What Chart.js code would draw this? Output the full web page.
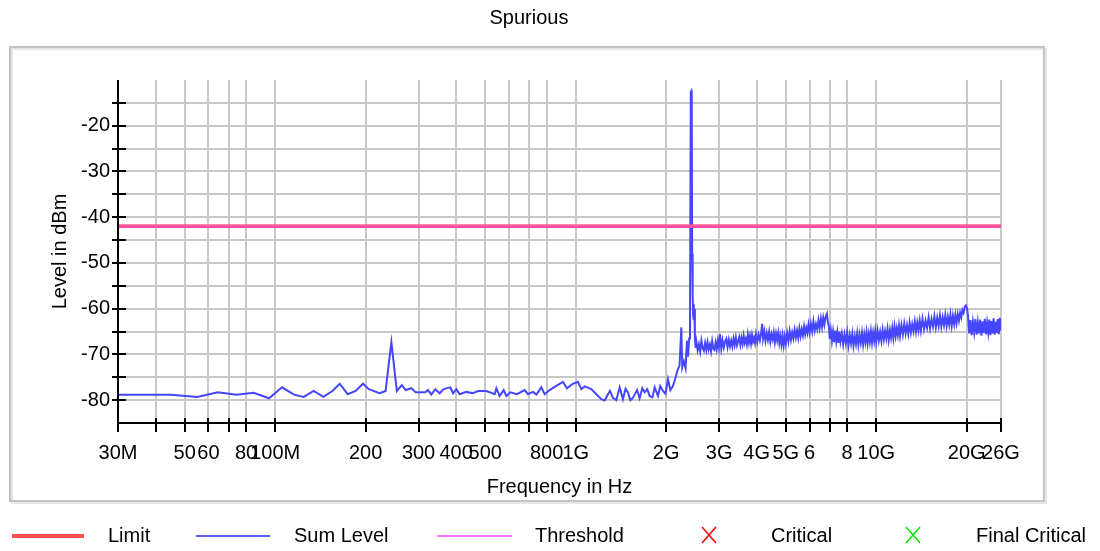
<!DOCTYPE html>
<html>
<head>
<meta charset="utf-8">
<title>Spurious</title>
<script src="https://cdn.jsdelivr.net/npm/chart.js@4.4.1/dist/chart.umd.min.js"></script>
<style>
  html, body { margin: 0; padding: 0; background: #fff; }
  #spurChart { display: block; }
</style>
</head>
<body>
<canvas id="spurChart" width="1100" height="551"></canvas>
<script>
// Sum level sweep, split in three parts: frequency in MHz, level in dBm
const sweepLowMHz = [
  30, 45, 55, 64.5, 74.3, 84.8, 95.4, 105.4, 115.5, 124.4,
  134.3, 144.7, 155, 164, 174.3, 185.3, 196, 205, 222.6, 233,
  243.6, 254, 264, 271.8, 284, 293.5, 316, 322.4, 331, 341,
  352.6, 363.6, 382.8, 390.6, 400.9, 411, 432.6, 455, 472.8, 504.3,
  537.6, 544.5, 558.3, 575.7, 588, 606.3, 637.5, 676.2, 693.6, 720.6,
  739.8, 768.6, 788, 819, 862, 906.6, 934.8, 974.4, 1017, 1044,
  1071, 1127, 1171, 1217, 1248, 1280, 1300, 1330, 1365, 1400,
  1436, 1465, 1492, 1520, 1550, 1600, 1632, 1665, 1696, 1730,
  1762, 1800, 1831, 1878, 1910, 1951, 1990, 2027, 2065, 2106,
  2150, 2188
];
const sweepLowDbm = [
  -78.8, -78.8, -79.3, -78.3, -78.8, -78.4, -79.6, -77.2, -78.8, -79.3,
  -78.0, -79.3, -78.0, -76.4, -78.7, -78.0, -76.4, -77.6, -78.5, -78.0,
  -67.3, -78.0, -76.7, -77.8, -77.4, -78.3, -78.3, -77.8, -78.8, -77.6,
  -78.5, -77.6, -77.2, -78.5, -77.6, -78.7, -78.2, -78.5, -78.0, -78.0,
  -78.7, -77.4, -79.1, -77.8, -79.1, -78.3, -78.7, -77.8, -78.7, -78.2,
  -78.8, -77.2, -78.7, -77.8, -76.9, -76.0, -77.4, -76.5, -76.0, -77.6,
  -77.0, -77.6, -78.7, -79.8, -80.1, -78.7, -78.0, -79.5, -80.0, -77.2,
  -79.8, -77.5, -78.3, -80.0, -79.5, -77.8, -79.6, -77.4, -78.3, -77.6,
  -79.1, -79.4, -77.2, -79.1, -76.9, -78.0, -78.6, -75.4, -77.8, -76.9,
  -75.0, -73.2
];

// 2.4 GHz carrier
const sweepSpikeMHz = [
  2215, 2246, 2262, 2290, 2320, 2345, 2365, 2385, 2400, 2415,
  2425, 2432, 2440, 2450, 2458, 2466, 2474, 2482, 2492, 2505
];
const sweepSpikeDbm = [
  -72.5, -64.1, -72.8, -71.5, -73.0, -67.0, -70.5, -66.5, -63.0, -12.6,
  -12.4, -14.5, -48.0, -57.0, -61.5, -59.0, -62.5, -60.0, -66.5, -68.6
];

const sweepHighMHz = [
  2520, 2545, 2570, 2595, 2620, 2645, 2670, 2695, 2720, 2745,
  2770, 2795, 2820, 2845, 2870, 2895, 2920, 2945, 2970, 2995,
  3020, 3050, 3080, 3110, 3140, 3170, 3200, 3230, 3260, 3290,
  3320, 3350, 3380, 3410, 3440, 3470, 3500, 3530, 3560, 3590,
  3620, 3650, 3680, 3710, 3740, 3770, 3800, 3830, 3860, 3890,
  3920, 3950, 3980, 4020, 4060, 4100, 4140, 4170, 4200, 4240,
  4280, 4320, 4360, 4400, 4440, 4480, 4520, 4560, 4600, 4640,
  4680, 4720, 4760, 4800, 4840, 4880, 4920, 4960, 5000, 5050,
  5100, 5150, 5200, 5250, 5300, 5350, 5400, 5450, 5500, 5550,
  5600, 5650, 5700, 5750, 5800, 5850, 5900, 5950, 6000, 6060,
  6120, 6180, 6240, 6300, 6360, 6420, 6480, 6540, 6600, 6660,
  6720, 6780, 6850, 6900, 6960, 7000, 7060, 7120, 7180, 7240,
  7300, 7360, 7420, 7480, 7540, 7600, 7680, 7760, 7840, 7920,
  8000, 8080, 8160, 8240, 8320, 8400, 8480, 8560, 8640, 8720,
  8800, 8880, 8960, 9040, 9120, 9200, 9280, 9360, 9440, 9520,
  9600, 9680, 9760, 9840, 9920, 10000, 10100, 10200, 10300, 10400,
  10500, 10600, 10700, 10800, 10900, 11000, 11100, 11200, 11300, 11400,
  11500, 11600, 11700, 11800, 11900, 12000, 12130, 12260, 12390, 12520,
  12650, 12780, 12910, 13040, 13170, 13300, 13430, 13560, 13690, 13820,
  13950, 14080, 14250, 14420, 14590, 14760, 14930, 15100, 15270, 15440,
  15610, 15780, 15950, 16120, 16290, 16460, 16630, 16800, 16970, 17140,
  17310, 17480, 17650, 17820, 17990, 18160, 18330, 18500, 18670, 18840,
  19010, 19180, 19350, 19520, 19690, 19860, 20030, 20200, 20370, 20570,
  20770, 20970, 21170, 21370, 21570, 21770, 21970, 22170, 22370, 22570,
  22770, 22970, 23170, 23370, 23570, 23770, 23970, 24170, 24370, 24570,
  24770, 24970, 25170, 25370, 25570, 25770, 26000
];
const sweepHighDbm = [
  -67.2, -69.1, -67.8, -69.4, -67.0, -68.6, -69.2, -67.5, -69.0, -67.3,
  -68.9, -67.9, -69.3, -67.1, -68.7, -69.0, -67.4, -68.8, -67.0, -68.5,
  -65.6, -68.7, -66.9, -68.5, -67.2, -66.6, -68.4, -66.8, -68.2, -67.0,
  -68.3, -66.5, -67.9, -66.3, -68.0, -67.1, -66.2, -67.9, -66.4, -67.7,
  -65.9, -67.5, -66.6, -67.8, -65.7, -67.4, -66.0, -67.6, -65.8, -67.2,
  -66.4, -67.5, -65.6, -67.2, -65.7, -66.9, -65.3, -63.3, -66.6, -65.0,
  -67.0, -65.4, -66.8, -65.1, -67.2, -65.6, -66.7, -65.2, -67.3, -65.5,
  -66.9, -65.3, -67.5, -66.0, -67.9, -65.9, -68.0, -66.1, -67.6, -65.3,
  -67.1, -64.9, -66.8, -65.2, -66.5, -64.6, -66.3, -64.8, -66.4, -64.3,
  -66.0, -64.5, -65.8, -63.9, -65.6, -64.2, -65.3, -63.5, -65.2, -63.3,
  -65.0, -62.8, -64.8, -63.4, -64.5, -62.5, -64.2, -62.2, -64.0, -62.0,
  -63.5, -61.8, -61.1, -62.8, -64.0, -66.6, -64.7, -67.0, -65.0, -67.3,
  -64.8, -67.1, -65.2, -67.5, -65.0, -67.2, -65.4, -67.8, -65.6, -67.5,
  -65.2, -68.0, -65.8, -67.6, -65.5, -68.1, -66.0, -67.7, -65.4, -67.9,
  -65.7, -67.4, -65.3, -67.8, -65.6, -67.3, -65.2, -67.6, -65.5, -67.2,
  -65.0, -67.4, -65.3, -67.0, -64.9, -67.2, -64.8, -66.9, -65.1, -67.0,
  -64.6, -66.7, -64.9, -66.5, -64.4, -66.8, -64.7, -66.3, -64.2, -66.4,
  -63.9, -66.0, -64.3, -65.8, -63.7, -65.9, -63.6, -65.6, -63.3, -65.4,
  -63.6, -65.5, -63.1, -65.2, -63.4, -64.9, -62.8, -65.0, -63.0, -64.7,
  -62.6, -64.8, -62.2, -64.5, -62.6, -64.2, -61.9, -64.3, -62.3, -63.9,
  -61.7, -64.1, -62.0, -63.8, -61.5, -63.9, -61.9, -63.6, -61.4, -63.8,
  -61.8, -63.5, -61.3, -63.7, -61.6, -63.4, -61.4, -63.2, -61.2, -62.6,
  -60.9, -61.9, -60.3, -60.9, -59.6, -59.3, -59.8, -61.5, -65.4, -62.5,
  -65.8, -62.9, -65.2, -62.3, -65.7, -63.0, -65.4, -62.4, -65.9, -62.8,
  -65.3, -62.2, -65.6, -63.1, -65.2, -62.4, -65.8, -62.7, -65.4, -62.1,
  -65.7, -62.9, -65.3, -62.3, -65.6, -62.0, -64.8
];

// limit / threshold line
const limitFreqMHz = [30, 26000];
const limitDbm = [-42, -42];

// axis ticks
const xTickMHz = [30, 40, 50, 60, 70, 80, 100, 200, 300, 400, 500, 600, 700, 800,
  1000, 2000, 3000, 4000, 5000, 6000, 7000, 8000, 10000, 20000, 26000];
const xTickLabels = ['30M', '', '50', '60', '', '80', '100M', '200', '300', '400', '500', '', '', '800',
  '1G', '2G', '3G', '4G', '5G', '6', '', '8', '10G', '20G', '26G'];
const yLabelled = [-80, -70, -60, -50, -40, -30, -20];

const legendLabels = ['Limit', 'Sum Level', 'Threshold', 'Critical', 'Final Critical'];

const FONT = '"Liberation Sans", Arial, Helvetica, sans-serif';
Chart.defaults.font.family = FONT;
Chart.defaults.font.size = 20;
Chart.defaults.color = '#000';

const toPoints = (xs, ys) => xs.map((v, i) => ({ x: v, y: ys[i] }));

const sumLevel = [].concat(
  toPoints(sweepLowMHz, sweepLowDbm),
  toPoints(sweepSpikeMHz, sweepSpikeDbm),
  toPoints(sweepHighMHz, sweepHighDbm)
);

// frame, title, axes with crossing ticks, legend
const framePlugin = {
  id: 'frame',
  beforeDraw(chart) {
    const ctx = chart.ctx;
    ctx.save();
    ctx.fillStyle = '#fff';
    ctx.fillRect(0, 0, chart.width, chart.height);
    ctx.strokeStyle = '#e6e6e6';
    ctx.lineWidth = 2;
    ctx.strokeRect(12, 49, 1034, 454);
    ctx.strokeStyle = '#c4c4c4';
    ctx.lineWidth = 2;
    ctx.strokeRect(10, 47, 1034, 454);
    ctx.fillStyle = '#000';
    ctx.font = '20px ' + FONT;
    ctx.textAlign = 'center';
    ctx.textBaseline = 'middle';
    ctx.fillText('Spurious', 529, 18);
    ctx.restore();
  },
  afterDatasetsDraw(chart) {
    const { ctx, chartArea: a, scales: { x, y } } = chart;
    ctx.save();
    ctx.strokeStyle = '#000';
    ctx.lineWidth = 2;
    ctx.beginPath();
    ctx.moveTo(a.left, a.top);
    ctx.lineTo(a.left, a.bottom);
    ctx.lineTo(a.right, a.bottom);
    y.ticks.forEach(t => {
      if (t.value <= -85 || t.value >= -10) return;
      const py = Math.round(y.getPixelForValue(t.value));
      ctx.moveTo(a.left - 6, py);
      ctx.lineTo(a.left + 8, py);
    });
    x.ticks.forEach(t => {
      const px = Math.round(x.getPixelForValue(t.value));
      ctx.moveTo(px, a.bottom - 5);
      ctx.lineTo(px, a.bottom + 9);
    });
    ctx.stroke();
    ctx.restore();
  },
  afterDraw(chart) {
    const ctx = chart.ctx;
    const yc = 536;
    ctx.save();
    ctx.font = '20px ' + FONT;
    ctx.textBaseline = 'middle';
    ctx.textAlign = 'left';
    ctx.fillStyle = '#000';

    const line = (x0, x1, color, w) => {
      ctx.strokeStyle = color;
      ctx.lineWidth = w;
      ctx.beginPath();
      ctx.moveTo(x0, yc);
      ctx.lineTo(x1, yc);
      ctx.stroke();
    };
    const cross = (cx, color) => {
      ctx.strokeStyle = color;
      ctx.lineWidth = 1.5;
      ctx.beginPath();
      ctx.moveTo(cx - 7, yc - 9);
      ctx.lineTo(cx + 7, yc + 7);
      ctx.moveTo(cx + 7, yc - 9);
      ctx.lineTo(cx - 7, yc + 7);
      ctx.stroke();
    };

    line(12, 84, 'rgb(255,80,80)', 4);
    ctx.fillText(legendLabels[0], 108, yc);
    line(196, 270, 'rgb(90,90,255)', 2);
    ctx.fillText(legendLabels[1], 294, yc);
    line(437, 512, 'rgb(255,120,255)', 2);
    ctx.fillText(legendLabels[2], 535, yc);
    cross(709, 'rgb(255,0,0)');
    ctx.fillText(legendLabels[3], 771, yc);
    cross(913, 'rgb(0,230,0)');
    ctx.fillText(legendLabels[4], 976, yc);
    ctx.restore();
  }
};

const gridColor = '#c8c8c8';

new Chart(document.getElementById('spurChart'), {
  type: 'line',
  data: {
    datasets: [
      {
        label: 'Threshold',
        data: toPoints(limitFreqMHz, limitDbm),
        borderColor: 'rgba(255,100,255,0.5)',
        borderWidth: 3.5,
        pointRadius: 0,
        order: 0
      },
      {
        label: 'Limit',
        data: toPoints(limitFreqMHz, limitDbm),
        borderColor: 'rgb(255,60,60)',
        borderWidth: 3.5,
        pointRadius: 0,
        order: 1
      },
      {
        label: 'Sum Level',
        data: sumLevel,
        borderColor: 'rgb(70,70,255)',
        borderWidth: 2,
        pointRadius: 0,
        tension: 0,
        order: 2
      }
    ]
  },
  options: {
    responsive: false,
    animation: false,
    devicePixelRatio: 1,
    layout: { padding: { left: 0, right: 99, top: 80, bottom: 48 } },
    plugins: {
      legend: { display: false },
      title: { display: false },
      tooltip: { enabled: false }
    },
    scales: {
      x: {
        type: 'logarithmic',
        min: 30,
        max: 26000,
        afterBuildTicks: scale => {
          scale.ticks = xTickMHz.map(v => ({ value: v }));
        },
        afterFit: scale => { scale.height = 80; },
        ticks: {
          autoSkip: false,
          maxRotation: 0,
          padding: 18,
          callback: (value, index) => xTickLabels[index]
        },
        grid: { color: gridColor, lineWidth: 2, drawTicks: false },
        border: { display: false },
        title: {
          display: true,
          text: 'Frequency in Hz',
          padding: { top: 0, bottom: 4 }
        }
      },
      y: {
        type: 'linear',
        min: -85,
        max: -10,
        afterFit: scale => { scale.width = 118; },
        ticks: {
          stepSize: 5,
          autoSkip: false,
          padding: 8,
          callback: value => (yLabelled.includes(value) ? String(value) : '')
        },
        grid: {
          color: ctx => (ctx.tick && ctx.tick.value === -10 ? 'rgba(0,0,0,0)' : gridColor),
          lineWidth: 2,
          drawTicks: false
        },
        border: { display: false },
        title: {
          display: true,
          text: 'Level in dBm',
          padding: { top: 48, bottom: 0 }
        }
      }
    }
  },
  plugins: [framePlugin]
});
</script>
</body>
</html>
